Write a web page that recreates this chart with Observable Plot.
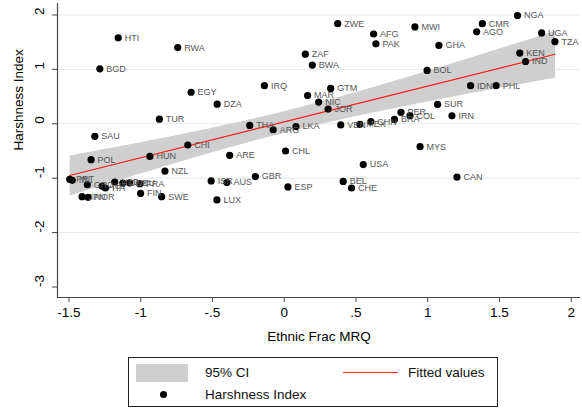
<!DOCTYPE html>
<html><head><meta charset="utf-8">
<script src="https://cdn.jsdelivr.net/npm/d3@7"></script>
<script src="https://cdn.jsdelivr.net/npm/@observablehq/plot@0.6"></script>
<style>
body{margin:0;background:#fff;font-family:"Liberation Sans",Arial,sans-serif;}
#wrap{position:relative;width:582px;height:410px;overflow:hidden;}
#legend{position:absolute;left:128px;top:357px;width:370px;height:50px;border:1px solid #222;box-sizing:border-box;font-size:13.5px;color:#111;}
#legend .it{position:absolute;white-space:nowrap;line-height:16px;}
</style></head><body>
<div id="wrap"><div id="chart"></div>
<div id="legend">
  <div class="it" style="left:7px;top:6px;width:52px;height:18px;background:#cfcfcf"></div>
  <div class="it" style="left:76px;top:7px">95% CI</div>
  <div class="it" style="left:214px;top:14px;width:55px;height:0;border-top:1.3px solid #ff2020"></div>
  <div class="it" style="left:279px;top:7px">Fitted values</div>
  <div class="it" style="left:31px;top:33px;width:7px;height:7px;border-radius:50%;background:#000"></div>
  <div class="it" style="left:76px;top:29px">Harshness Index</div>
</div>
</div>
<script>
const countries = ["HTI","RWA","BGD","EGY","DZA","TUR","THA","ZWE","AFG","PAK","MWI","ZAF","BWA","IRQ","GTM","MAR","NIC","JOR","BOL","LKA","ARG","VEN","MEX","CHN","BRA","PER","COL","ARE","CHL","USA","GBR","ESP","BEL","CHE","MYS","CAN","SUR","IRN","NGA","CMR","AGO","GHA","UGA","TZA","KEN","IND","IDN","PHL","SAU","CHI","POL","HUN","NZL","ISR","AUS","LUX","SWE","FIN","PRT","IRL","GRC","AUT","ITA","NLD","DNK","DEU","FRA","JPN","NOR"];
const ethnicFrac = [-1.157,-0.742,-1.285,-0.649,-0.467,-0.870,-0.240,0.373,0.623,0.639,0.911,0.147,0.196,-0.138,0.324,0.163,0.240,0.306,0.996,0.082,-0.077,0.394,0.527,0.604,0.768,0.814,0.877,-0.380,0.009,0.551,-0.201,0.026,0.411,0.469,0.947,1.204,1.069,1.169,1.626,1.381,1.341,1.078,1.794,1.887,1.642,1.682,1.299,1.477,-1.320,-0.672,-1.346,-0.936,-0.831,-0.509,-0.399,-0.469,-0.854,-1.001,-1.495,-1.477,-1.372,-1.269,-1.246,-1.181,-1.125,-1.078,-1.006,-1.409,-1.367];
const harshness = [1.58,1.40,1.01,0.58,0.36,0.085,-0.03,1.84,1.65,1.47,1.78,1.28,1.08,0.70,0.65,0.52,0.40,0.27,0.98,-0.05,-0.11,-0.02,-0.01,0.04,0.08,0.21,0.15,-0.58,-0.50,-0.75,-0.97,-1.16,-1.06,-1.18,-0.42,-0.98,0.355,0.147,1.99,1.84,1.69,1.44,1.67,1.51,1.30,1.145,0.70,0.70,-0.23,-0.39,-0.66,-0.60,-0.87,-1.05,-1.08,-1.40,-1.34,-1.28,-1.02,-1.04,-1.12,-1.15,-1.18,-1.07,-1.09,-1.085,-1.10,-1.34,-1.35];
const xTicks = [-1.5,-1,-0.5,0,0.5,1,1.5,2];
const xTickLabels = ["-1.5","-1","-.5","0",".5","1","1.5","2"];
const yTicks = [2,1,0,-1,-2,-3];
const yTickLabels = ["2","1","0","-1","-2","-3"];
const gridTicks = [2,1,0,-1,-2];

const data = countries.map((c,i)=>({country:c, x:ethnicFrac[i], y:harshness[i]}));
const xDom = [-1.580, 2.065];
const yDom = [-3.193, 2.211];
const font = "Liberation Sans, Arial, sans-serif";

const chart = Plot.plot({
  width:582, height:350,
  marginLeft:57, marginRight:2, marginTop:3, marginBottom:53,
  style:{fontFamily:font, background:"white", color:"#000"},
  x:{domain:xDom},
  y:{domain:yDom},
  marks:[
    Plot.gridY(gridTicks,{stroke:"#e2ebee", strokeOpacity:1, strokeWidth:1}),
    Plot.linearRegressionY(data,{x:"x",y:"y",ci:0.95,fill:"#cfcfcf",fillOpacity:1,stroke:"#ff1a1a",strokeWidth:1.2}),
    Plot.dot(data,{x:"x",y:"y",r:3.6,fill:"#000",stroke:null}),
    Plot.text(data,{x:"x",y:"y",text:"country",dx:6.5,textAnchor:"start",fontSize:9,fill:"#555"}),
    Plot.ruleX([xDom[0]],{stroke:"#444",strokeWidth:1.2}),
    Plot.ruleY([yDom[0]],{stroke:"#444",strokeWidth:1.2}),
    Plot.axisX({ticks:xTicks, tickFormat:d=>xTickLabels[xTicks.indexOf(d)], tickSize:5, tickPadding:5, fontSize:13.5, label:null, stroke:"#444", fill:"#000"}),
    Plot.axisY({ticks:yTicks, tickFormat:()=>"", tickSize:5, label:null, stroke:"#444"}),
    Plot.text(yTicks,{y:d=>d, text:(d,i)=>yTickLabels[i], frameAnchor:"left", rotate:-90, dx:-18, fontSize:13.5, fill:"#000"}),
    Plot.text(["Harshness Index"],{frameAnchor:"left", rotate:-90, dx:-39, fontSize:13.5, fill:"#000"}),
    Plot.text(["Ethnic Frac MRQ"],{frameAnchor:"bottom", dy:43, fontSize:13.5, fill:"#000"})
  ]
});
document.getElementById("chart").appendChild(chart);
</script>
</body></html>
